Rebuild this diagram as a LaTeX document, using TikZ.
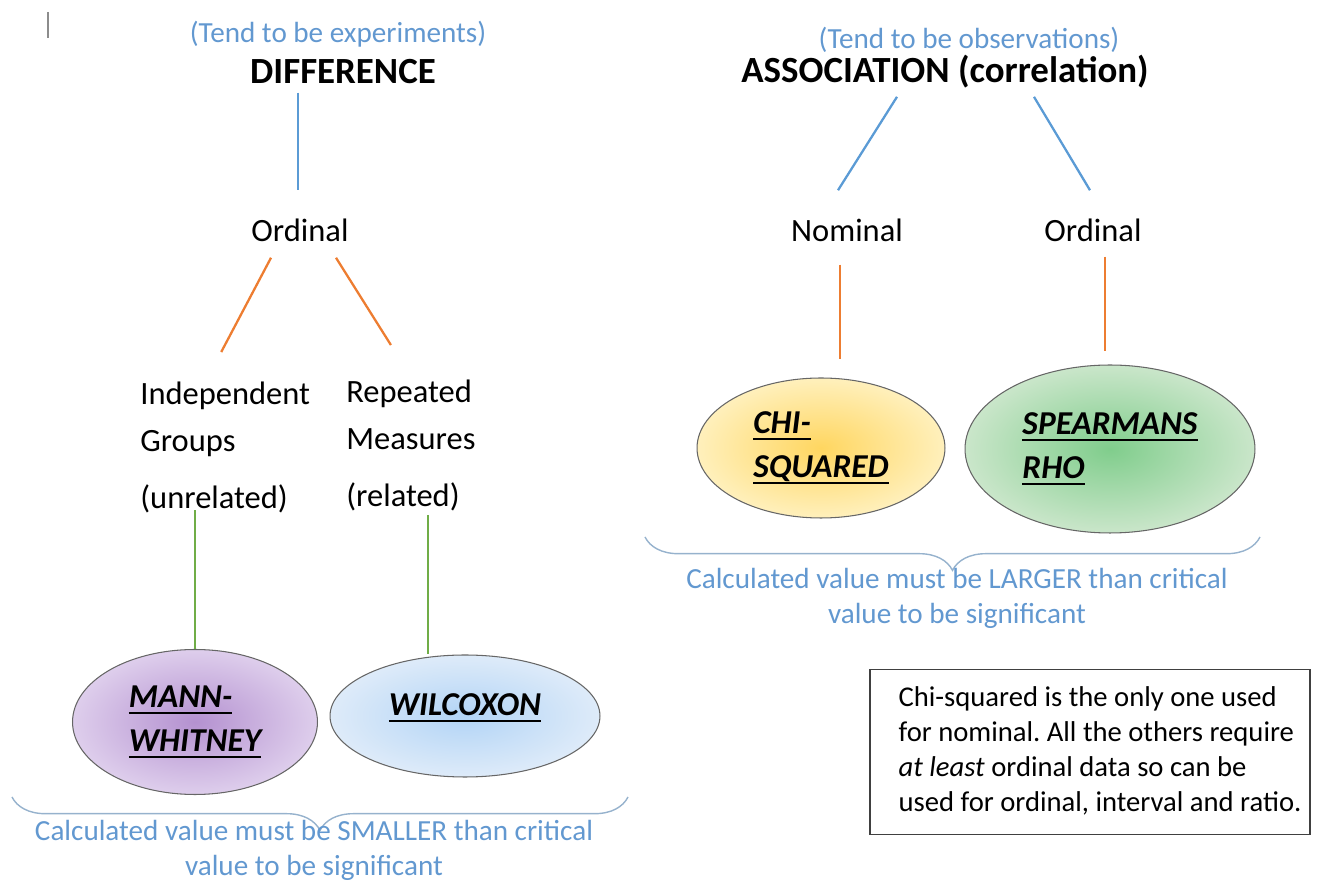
\documentclass[tikz,border=0pt]{standalone}
\usepackage{fontspec}
\setmainfont{Carlito}
\usetikzlibrary{shapes.geometric,decorations.pathreplacing}
\frenchspacing

\definecolor{linkblue}{RGB}{91,155,213}
\definecolor{linkorange}{RGB}{237,125,49}
\definecolor{linkgreen}{RGB}{112,173,71}
\definecolor{noteblue}{RGB}{98,152,208}
\definecolor{bracegray}{RGB}{150,178,205}
\definecolor{mannin}{RGB}{180,145,208}
\definecolor{mannout}{RGB}{222,206,236}
\definecolor{wilin}{RGB}{178,212,246}
\definecolor{wilout}{RGB}{222,235,249}
\definecolor{chiin}{RGB}{255,214,96}
\definecolor{chiout}{RGB}{255,240,188}
\definecolor{spearin}{RGB}{128,205,140}
\definecolor{spearout}{RGB}{202,230,202}

\newcommand{\undl}[1]{\setbox0\hbox{#1}\rlap{\rule[-3.5pt]{\wd0}{1.1pt}}\box0}

\begin{document}
\begin{tikzpicture}[x=0.02cm,y=-0.02cm]

\tikzstyle{hd}=[font=\fontsize{21}{25}\selectfont\bfseries,inner sep=0]
\tikzstyle{note}=[text=noteblue,font=\fontsize{16.6}{20}\selectfont,inner sep=0,align=center]
\tikzstyle{lvl}=[font=\fontsize{18.5}{26.6}\selectfont,inner sep=0,align=left]
\tikzstyle{test}=[ellipse,draw=black!60,line width=0.6pt,shading=radial,
  font=\fontsize{19}{25}\selectfont\bfseries\itshape,align=left,inner sep=0]
\tikzstyle{bl}=[linkblue,line width=1.3pt]
\tikzstyle{ol}=[linkorange,line width=1.3pt]
\tikzstyle{gl}=[linkgreen,line width=1.4pt]
\tikzstyle{brc}=[bracegray,line width=0.8pt,decorate,
  decoration={brace,mirror,amplitude=19pt}]

\useasboundingbox (0,0) rectangle (1323,884);

\draw[black!45,line width=1.2pt] (48,12) -- (48,38);

% difference side
\node[note] (exp) at (338,34) {(Tend to be experiments)};
\node[hd] (diff) at (343,72) {DIFFERENCE};
\node[lvl] (ordA) at (300,230) {Ordinal};
\node[lvl,anchor=north west] (indep) at (140,382) {Independent\\Groups\\[6pt](unrelated)};
\node[lvl,anchor=north west] (rep) at (346,380) {Repeated\\Measures\\[6pt](related)};
\node[test,minimum width=4.9cm,minimum height=2.9cm,inner color=mannin,outer color=mannout]
  (mann) at (195,722) {\undl{MANN-}\\\undl{WHITNEY}};
\node[test,minimum width=5.4cm,minimum height=2.44cm,text depth=13pt,inner color=wilin,outer color=wilout]
  (wil) at (465,716) {\undl{WILCOXON}};

\draw[bl] ([shift={(-45,8)}]diff.south) -- ([shift={(-2,-28)}]ordA.north);
\draw[ol] ([shift={(-29,16)}]ordA.south) -- ([shift={(-4,-30)}]indep.north);
\draw[ol] ([shift={(36,16)}]ordA.south) -- ([shift={(-20,-35)}]rep.north);
\draw[gl] ([yshift=2pt]mann.north |- indep.south) -- (mann.north);
\draw[gl] ([shift={(17,3)}]rep.south) -- ([shift={(17,0)}]rep.south |- wil.north);

\draw[brc] (12,797) -- (628,797);
\node[note] (smaller) at (314,850) {Calculated value must be SMALLER than critical\\value to be significant};

% association side
\node[note] (obs) at (969,40) {(Tend to be observations)};
\node[hd] (assoc) at (945,72) {ASSOCIATION (correlation)};
\node[lvl] (nom) at (847,230) {Nominal};
\node[lvl] (ordB) at (1093,230) {Ordinal};
\node[test,minimum width=4.96cm,minimum height=2.8cm,inner color=chiin,outer color=chiout]
  (chi) at (821,448) {\undl{CHI-}\\\undl{SQUARED}};
\node[test,minimum width=5.8cm,minimum height=3.36cm,inner color=spearin,outer color=spearout]
  (spear) at (1110,449) {\undl{SPEARMANS}\\\undl{RHO}};

\draw[bl] ([shift={(-48,8)}]assoc.south) -- ([shift={(-9,-28)}]nom.north);
\draw[bl] ([shift={(89,8)}]assoc.south) -- ([shift={(-3,-28)}]ordB.north);
\draw[ol] ([shift={(-7,23)}]nom.south) -- ([shift={(19,-18)}]chi.north);
\draw[ol] ([shift={(12,15)}]ordB.south) -- ([shift={(-5,-13)}]spear.north);

\draw[brc] (645,537) -- (1260,537);
\node[note] (larger) at (957,598) {Calculated value must be LARGER than critical\\value to be significant};

\node[draw=black!75,line width=0.8pt,inner xsep=0,minimum width=8.8cm,minimum height=3.3cm,
  font=\fontsize{16.3}{19.8}\selectfont] (info) at (1090,752)
  {\begin{tabular}{@{\hspace{0.4cm}}l@{}}Chi-squared is the only one used\\for nominal. All the others require\\\textit{at least} ordinal data so can be\\used for ordinal, interval and ratio.\end{tabular}};

\end{tikzpicture}
\end{document}
